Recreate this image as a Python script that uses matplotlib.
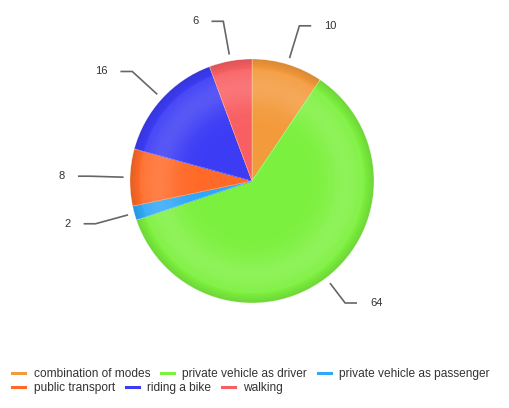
import numpy as np
import matplotlib.pyplot as plt
from matplotlib.patches import Wedge
from matplotlib.lines import Line2D
from matplotlib.colors import to_rgb

plt.rcParams['font.family'] = ['Liberation Sans', 'DejaVu Sans']

# data
modes = ["combination of modes", "private vehicle as driver",
         "private vehicle as passenger", "public transport",
         "riding a bike", "walking"]
counts = [10, 64, 2, 8, 16, 6]
colors = ["#F39A3C", "#7CF03E", "#2FA8F8", "#FF6A28", "#3C3CF5", "#F85F62"]

fig = plt.figure(figsize=(5.09, 4.08), dpi=100)
ax = fig.add_axes([0, 0, 1, 1])
ax.set_xlim(0, 509)
ax.set_ylim(408, 0)
ax.axis('off')

cx, cy, R = 252, 181, 122


def shade(c, r):
    # lighter band near the outer part of the pie, a bit darker at the rim
    rgb = np.array(to_rgb(c))
    if r > 0.93:
        k = -0.10 * (r - 0.93) / 0.07
    else:
        k = 0.14 * np.exp(-((r - 0.78) / 0.16) ** 2)
    if k >= 0:
        rgb = rgb + (1 - rgb) * k
    else:
        rgb = rgb * (1 + k)
    return np.clip(rgb, 0, 1)


total = sum(counts)
start = 0.0  # degrees clockwise from 12 o'clock
rings = np.linspace(1.0, 0.02, 50)
for val, col in zip(counts, colors):
    span = val / total * 360
    # convert to matplotlib angles (y axis inverted)
    t1 = start - 90
    t2 = start + span - 90
    for r in rings:
        ax.add_patch(Wedge((cx, cy), R * r, t1, t2, facecolor=shade(col, r),
                           edgecolor='none', antialiased=True))
    ax.add_patch(Wedge((cx, cy), R, t1, t2, facecolor='none',
                       edgecolor='white', lw=0.4, alpha=0.5))

    mid = np.deg2rad(start + span / 2)
    dx, dy = np.sin(mid), -np.cos(mid)
    side = 1 if dx >= 0 else -1
    # keep labels inside the plot area at the bottom
    re = 1.33 * R
    if dy * re > 1.0 * R:
        re = 1.0 * R / dy
    p0 = (cx + 1.06 * R * dx, cy + 1.06 * R * dy)
    p1 = (cx + re * dx, cy + re * dy)
    p2 = (p1[0] + side * 11, p1[1])
    ax.plot([p0[0], p1[0], p2[0]], [p0[1], p1[1], p2[1]], color='#666666',
            lw=1.2, solid_joinstyle='miter')
    ax.text(p2[0] + side * 14, p2[1], str(val), fontsize=8,
            color='#333333', ha='left' if side > 0 else 'right', va='center')
    start += span

# legend, two rows flowing from the left
handles = [Line2D([], [], color=c, lw=2.2) for c in colors]
leg_kw = dict(frameon=False, fontsize=8.6, handlelength=1.1, handletextpad=0.7,
              columnspacing=0.9, labelcolor='#333333', borderaxespad=0,
              borderpad=0)
fig.legend(handles[:3], modes[:3], ncol=3, loc='center left',
           bbox_to_anchor=(12 / 509, 1 - 374 / 408), **leg_kw)
fig.legend(handles[3:], modes[3:], ncol=3, loc='center left',
           bbox_to_anchor=(12 / 509, 1 - 388 / 408), **leg_kw)

fig.savefig('out.png', dpi=100, facecolor='white')
